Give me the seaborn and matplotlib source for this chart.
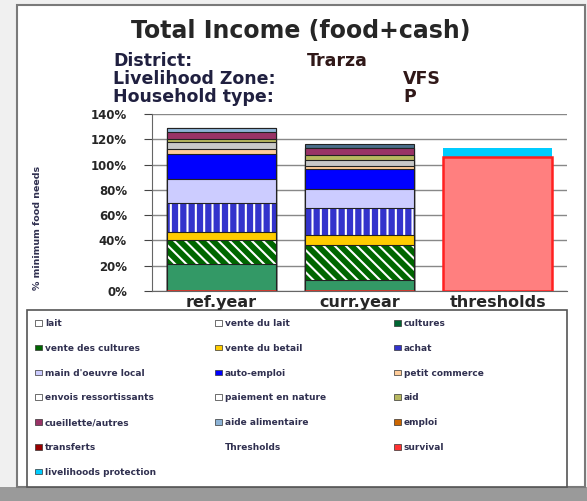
import matplotlib
matplotlib.use("Agg")
import matplotlib.pyplot as plt
import matplotlib.patches as mpatches
import seaborn as sns
import numpy as np
import pandas as pd

categories = ["ref.year", "curr.year", "thresholds"]

# income sources (bottom to top)
income_names = ["cultures", "vente des cultures", "vente du betail", "achat",
                "main d'oeuvre local", "auto-emploi", "petit commerce",
                "envois ressortissants", "aid", "cueillette/autres",
                "aide alimentaire", "emploi"]
cultures = [21, 9, 0]
vente_cultures = [19, 27, 0]
vente_betail = [7, 8, 0]
achat = [23, 22, 0]
main_oeuvre = [18.5, 15, 0]
auto_emploi = [20, 15.5, 0]
petit_commerce = [3.5, 2, 0]
envois = [5.5, 5.5, 0]
aid = [2.5, 3.5, 0]
cueillette = [6, 6, 0]
aide_alim = [3, 0, 0]
emploi = [0, 3, 0]
# thresholds
threshold_names = ["survival", "livelihoods protection"]
survival = [0, 0, 106]
protection = [0, 0, 7.5]

income_values = [cultures, vente_cultures, vente_betail, achat, main_oeuvre, auto_emploi,
                 petit_commerce, envois, aid, cueillette, aide_alim, emploi]
income_colors = ["#339966", "#006600", "#FFCC00", "#3333CC", "#CCCCFF", "#0000FF", "#FFCC99",
                 "#C8C8C8", "#B8B860", "#993366", "#8DB3D6", "#4A6F8A"]
income_hatches = [None, "\\\\\\", None, "||", None, None, None, None, "--", None, None, None]
threshold_values = [survival, protection]
threshold_colors = ["#FF7F7F", "#00CCFF"]

legend_cols = [
    ["lait", "vente des cultures", "main d'oeuvre local", "envois ressortissants",
     "cueillette/autres", "transferts", "livelihoods protection"],
    ["vente du lait", "vente du betail", "auto-emploi", "paiement en nature",
     "aide alimentaire", "Thresholds"],
    ["cultures", "achat", "petit commerce", "aid", "emploi", "survival"],
]
legend_col_colors = [
    ["#FFFFFF", "#006600", "#CCCCFF", "#FFFFFF", "#993366", "#990000", "#00CCFF"],
    ["#FFFFFF", "#FFCC00", "#0000FF", "#FFFFFF", "#8DB3D6", None],
    ["#006633", "#3333CC", "#FFCC99", "#B8B860", "#CC6600", "#FF3333"],
]

sns.set_style("white")
plt.rcParams["font.family"] = ["DejaVu Sans"]
plt.rcParams["hatch.linewidth"] = 1.5

fig = plt.figure(figsize=(5.87, 5.01), dpi=100, facecolor="#f0f0f0")
W, H = 587, 501

def px(x0, y0, x1, y1):
    return [x0 / W, 1 - y1 / H, (x1 - x0) / W, (y1 - y0) / H]

# panel frame & shadow
fig.patches.append(mpatches.Rectangle((0, 0), 1, 14 / H, transform=fig.transFigure,
                                      facecolor="#9a9a9a", edgecolor="none", zorder=-3))
b = px(17, 5, 585, 487)
fig.patches.append(mpatches.Rectangle((b[0], b[1]), b[2], b[3], transform=fig.transFigure,
                                      facecolor="white", edgecolor="#7a7a7a", lw=1.5, zorder=-2))
lb = px(27, 310, 567, 487)
fig.patches.append(mpatches.Rectangle((lb[0], lb[1]), lb[2], lb[3], transform=fig.transFigure,
                                      facecolor="white", edgecolor="#555555", lw=1.2, zorder=-1))

ax = fig.add_axes(px(152, 114, 567, 291))
ax.set_facecolor("white")

bw = 0.79

def draw_stack(vals, cols, hatches, edge, lw):
    cum = np.cumsum(np.array(vals, dtype=float), axis=0)
    for i in range(len(vals) - 1, -1, -1):
        df = pd.DataFrame({"cat": categories, "val": cum[i]})
        if hatches[i]:
            sns.barplot(data=df, x="cat", y="val", ax=ax, color=cols[i], saturation=1,
                        width=bw, edgecolor="white", linewidth=0, hatch=hatches[i], zorder=3)
            sns.barplot(data=df, x="cat", y="val", ax=ax, fill=False, width=bw,
                        edgecolor=edge, linewidth=lw, zorder=3)
        else:
            sns.barplot(data=df, x="cat", y="val", ax=ax, color=cols[i], saturation=1,
                        width=bw, edgecolor=edge, linewidth=lw, zorder=3)

draw_stack(income_values, income_colors, income_hatches, "#222222", 0.8)
draw_stack(threshold_values, threshold_colors, [None, None], "#FF0000", 0)
# red sides of threshold bar
dft = pd.DataFrame({"cat": categories, "val": survival})
sns.barplot(data=dft, x="cat", y="val", ax=ax, fill=False, width=bw,
            edgecolor="#FF2020", linewidth=1.8, zorder=3)

ax.set_xlim(-0.5, 2.5)
ax.set_ylim(0, 140)
ax.set_yticks(np.arange(0, 141, 20))
ax.set_yticklabels([f"{v}%" for v in range(0, 141, 20)], fontsize=8.5, fontweight="bold")
ax.yaxis.grid(True, color="#888888", lw=1.0, zorder=0)
ax.set_axisbelow(True)
for s in ["top", "right"]:
    ax.spines[s].set_visible(False)
ax.spines["left"].set_color("#666666")
ax.spines["bottom"].set_color("#666666")
ax.tick_params(axis="y", length=6, direction="out", color="#444444", pad=12, left=True)
ax.tick_params(axis="x", length=0, pad=3)
for t in ax.get_xticklabels():
    t.set_fontsize(11.5)
    t.set_fontweight("bold")
ax.set_xlabel("")
ax.set_ylabel("")
fig.text(38 / W, 1 - 228 / H, "% minimum food needs", rotation=90, fontsize=6.8,
         fontweight="bold", ha="center", va="center", color="#303050")

# titles
fig.text(301 / W, 1 - 31 / H, "Total Income (food+cash)", fontsize=17, fontweight="bold",
         ha="center", va="center")
lines = [("District:", "Trarza", 307, 61), ("Livelihood Zone:", "VFS", 403, 79),
         ("Household type:", "P", 403, 97)]
for a, v, xv, y in lines:
    fig.text(113 / W, 1 - y / H, a, fontsize=12.5, fontweight="bold", ha="left", va="center",
             color="#202040")
    fig.text(xv / W, 1 - y / H, v, fontsize=12.5, fontweight="bold", ha="left", va="center",
             color="#301818")

# legend: three columns placed at the reference positions
col_x = [35, 215, 394]
for labels, cols, x in zip(legend_cols, legend_col_colors, col_x):
    handles = []
    for c in cols:
        if c is None:
            handles.append(mpatches.Patch(facecolor="none", edgecolor="none"))
        else:
            handles.append(mpatches.Patch(facecolor=c, edgecolor="#333333", lw=0.5))
    leg = fig.legend(handles, labels, loc="upper left", bbox_to_anchor=(x / W, 1 - 319 / H),
                     frameon=False, prop={"size": 6.5, "weight": "bold"},
                     handlelength=0.8, handleheight=0.6, handletextpad=0.3,
                     labelspacing=1.75, borderaxespad=0, borderpad=0)
    for t in leg.get_texts():
        t.set_color("#303050")

fig.savefig("out.png", dpi=100, facecolor=fig.get_facecolor())
